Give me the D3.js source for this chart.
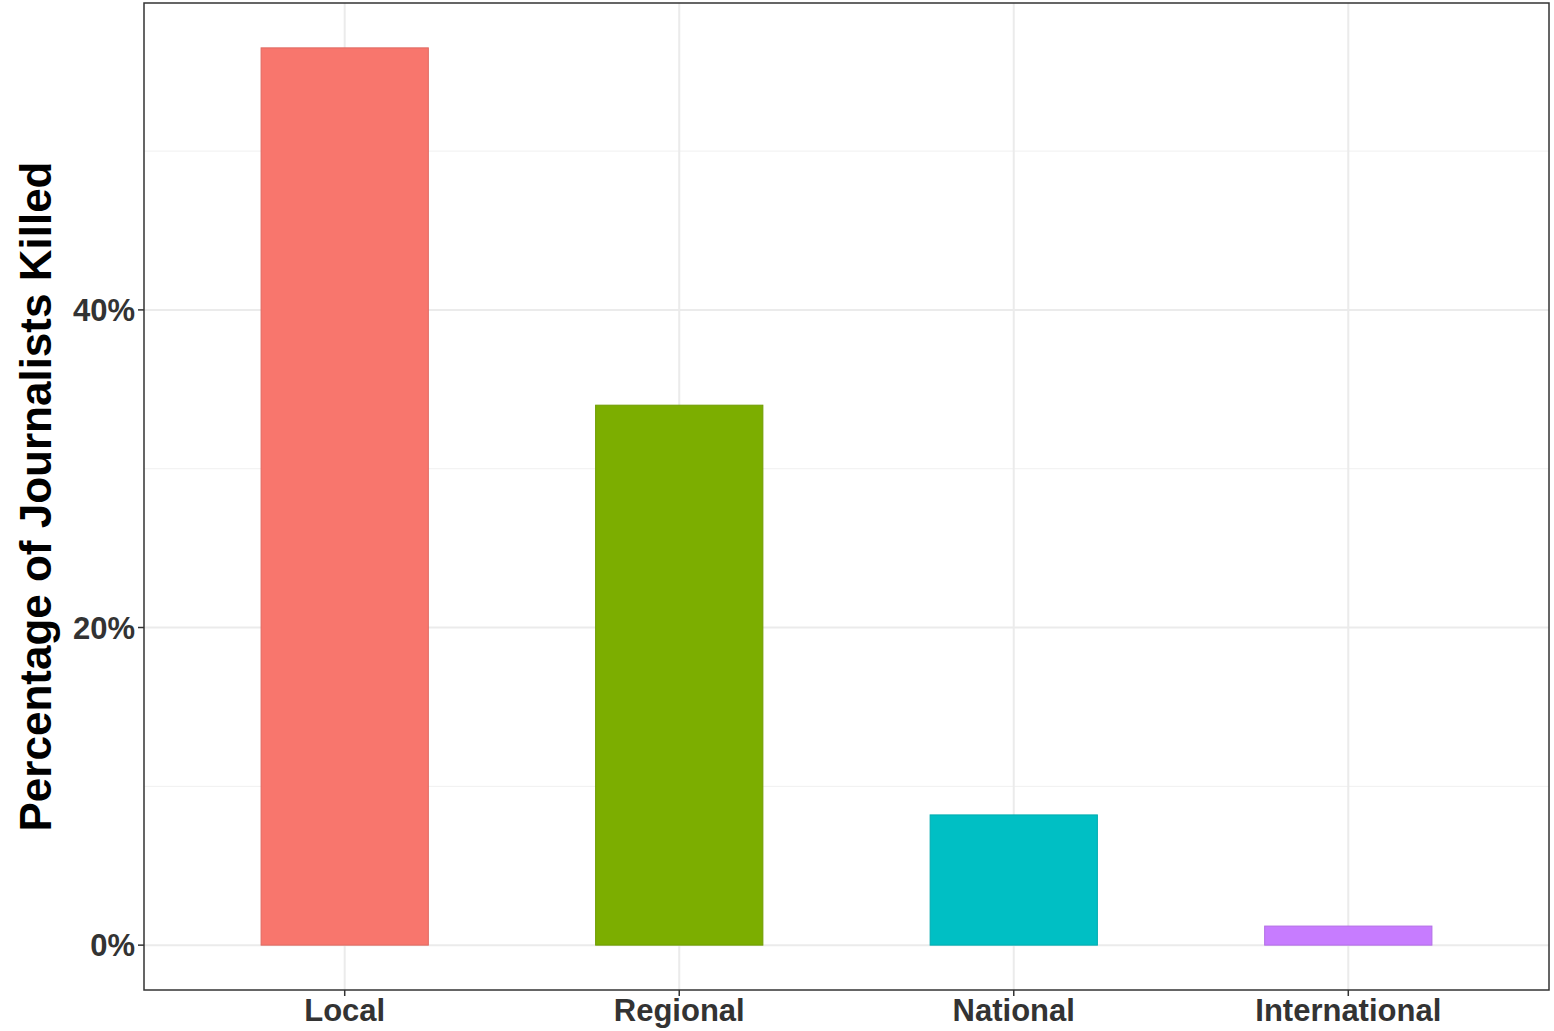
<!DOCTYPE html>
<html><head><meta charset="utf-8">
<script src="https://cdn.jsdelivr.net/npm/d3@7"></script>
<style>body{margin:0;background:#fff}</style>
</head><body>
<svg id="c" width="1554" height="1031"></svg>
<script>
const categories = ["Local","Regional","National","International"];
const values = [56.5, 34.0, 8.2, 1.2];
const colors = ["#F8766D","#7CAE00","#00BFC4","#C77CFF"];
const yTicks = [0,20,40];
const yMinor = [10,30,50];

const L=144,R=1549,T=3,B=990;
const svg=d3.select("#c");
const y=d3.scaleLinear().domain([-2.825,59.325]).range([B,T]);
const x=d3.scaleBand().domain(categories).range([L,R]).paddingOuter(0.1).paddingInner(0);
// discrete expansion 0.6 units: compute via point positions
const unit=(R-L)/(categories.length-1+1.2);
const cx=d=>L+unit*(0.6+categories.indexOf(d));
const bw=unit*0.5;

const g=svg.append("g");
yMinor.forEach(v=>g.append("line").attr("x1",L).attr("x2",R).attr("y1",y(v)).attr("y2",y(v)).attr("stroke","#f0f0f0").attr("stroke-width",1));
yTicks.forEach(v=>g.append("line").attr("x1",L).attr("x2",R).attr("y1",y(v)).attr("y2",y(v)).attr("stroke","#ebebeb").attr("stroke-width",2));
categories.forEach(c=>g.append("line").attr("x1",cx(c)).attr("x2",cx(c)).attr("y1",T).attr("y2",B).attr("stroke","#ebebeb").attr("stroke-width",2));

g.selectAll("rect.bar").data(categories).enter().append("rect")
 .attr("x",d=>cx(d)-bw/2).attr("width",bw)
 .attr("y",(d,i)=>y(values[i])).attr("height",(d,i)=>y(0)-y(values[i]))
 .attr("fill",(d,i)=>colors[i]).attr("stroke",(d,i)=>d3.color(colors[i]).darker(0.3)).attr("stroke-width",1);

svg.append("rect").attr("x",L).attr("y",T).attr("width",R-L).attr("height",B-T).attr("fill","none").attr("stroke","#333").attr("stroke-width",1.5);

yTicks.forEach(v=>{
 svg.append("line").attr("x1",L-6).attr("x2",L).attr("y1",y(v)).attr("y2",y(v)).attr("stroke","#333").attr("stroke-width",1.5);
 svg.append("text").attr("x",L-9).attr("y",y(v)).attr("dy","0.36em").attr("text-anchor","end")
  .attr("font-family","Liberation Sans, Arial").attr("font-weight","bold").attr("font-size",31).attr("fill","#333").text(v+"%");
});
categories.forEach(c=>{
 svg.append("line").attr("x1",cx(c)).attr("x2",cx(c)).attr("y1",B).attr("y2",B+6).attr("stroke","#333").attr("stroke-width",1.5);
 svg.append("text").attr("x",cx(c)).attr("y",B+31).attr("text-anchor","middle")
  .attr("font-family","Liberation Sans, Arial").attr("font-weight","bold").attr("font-size",31).attr("fill","#333").text(c);
});
svg.append("text").attr("transform",`translate(35,${(T+B)/2}) rotate(-90)`).attr("dy","0.36em").attr("text-anchor","middle")
 .attr("font-family","Liberation Sans, Arial").attr("font-weight","bold").attr("font-size",44).attr("fill","#000").text("Percentage of Journalists Killed");
</script>
</body></html>
